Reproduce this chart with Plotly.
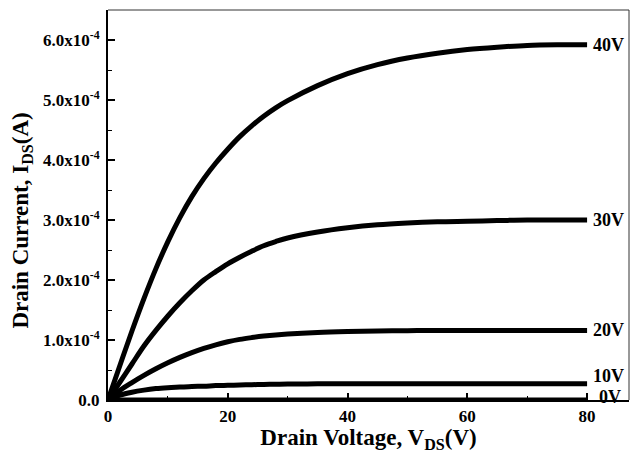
import plotly.graph_objects as go

# Drain voltage grid (V)
vds = [0, 2, 4, 6, 8, 10, 12, 14, 16, 18, 20, 22, 24, 26, 28, 30,
       35, 40, 45, 50, 55, 60, 65, 70, 75, 80]

# Drain current (units of 1e-4 A) for each gate voltage
id_40v = [0, 0.58, 1.15, 1.69, 2.19, 2.64, 3.04, 3.39, 3.69, 3.95, 4.18, 4.39, 4.57, 4.73, 4.87, 4.99,
          5.24, 5.44, 5.59, 5.70, 5.78, 5.84, 5.88, 5.91, 5.92, 5.92]
id_30v = [0, 0.30, 0.60, 0.90, 1.16, 1.40, 1.62, 1.82, 2.00, 2.14, 2.27, 2.38, 2.48, 2.57, 2.64, 2.70,
          2.80, 2.87, 2.92, 2.95, 2.97, 2.98, 2.99, 3.00, 3.00, 3.00]
id_20v = [0, 0.16, 0.29, 0.41, 0.52, 0.62, 0.71, 0.79, 0.86, 0.92, 0.97, 1.01, 1.04, 1.065, 1.085, 1.10,
          1.125, 1.14, 1.15, 1.155, 1.16, 1.16, 1.16, 1.16, 1.16, 1.16]
id_10v = [0, 0.08, 0.13, 0.165, 0.19, 0.205, 0.215, 0.225, 0.23, 0.24, 0.245, 0.25, 0.255, 0.26, 0.262, 0.265,
          0.27, 0.27, 0.27, 0.27, 0.27, 0.27, 0.27, 0.27, 0.27, 0.27]
id_0v = [0] * len(vds)

series = [("40V", id_40v), ("30V", id_30v), ("20V", id_20v), ("10V", id_10v), ("0V", id_0v)]

y_tickvals = [0, 1, 2, 3, 4, 5, 6]
y_ticktext = ["0.0", "1.0x10<sup>-4</sup>", "2.0x10<sup>-4</sup>", "3.0x10<sup>-4</sup>",
              "4.0x10<sup>-4</sup>", "5.0x10<sup>-4</sup>", "6.0x10<sup>-4</sup>"]
x_tickvals = [0, 20, 40, 60, 80]

FONT = "Liberation Serif"

fig = go.Figure()
for name, vals in series:
    fig.add_trace(go.Scatter(
        x=vds, y=[v * 1e-4 for v in vals], mode="lines", name=name,
        line=dict(color="black", width=5, shape="spline", smoothing=1.0),
        showlegend=False, hoverinfo="skip"))

label_shift = {"40V": (0, 0), "30V": (0, 0), "20V": (0, 0), "10V": (0, 8), "0V": (6, 3)}
for name, vals in series:
    dx, dy = label_shift[name]
    fig.add_annotation(x=vds[-1], y=vals[-1] * 1e-4, text=name, showarrow=False,
                       xanchor="left", yanchor="middle", xshift=4 + dx, yshift=dy,
                       font=dict(family=FONT, size=18, color="black", weight="bold"))

# y-axis title as annotation (slightly below the plot centre, as in the reference)
fig.add_annotation(xref="paper", yref="paper", x=0, y=0.46, xshift=-86,
                   text="Drain Current, I<sub>DS</sub>(A)", textangle=-90, showarrow=False,
                   xanchor="center", yanchor="middle",
                   font=dict(family=FONT, size=23, color="black", weight="bold"))

fig.update_layout(
    width=631, height=453,
    margin=dict(l=108, r=2, t=10, b=53),
    paper_bgcolor="white", plot_bgcolor="white",
    font=dict(family=FONT, color="black"),
    xaxis=dict(
        range=[0, 87], showgrid=False, zeroline=False,
        showline=True, linecolor="black", linewidth=2,
        ticks="inside", ticklen=7, tickwidth=1.5, tickcolor="black",
        tickvals=x_tickvals, ticktext=[str(v) for v in x_tickvals],
        minor=dict(ticks="inside", ticklen=4, tickwidth=1.2, tickcolor="black", dtick=10, tick0=0),
        tickfont=dict(family=FONT, size=17, color="black", weight="bold"),
        title=dict(text="Drain Voltage, V<sub>DS</sub>(V)", standoff=5,
                   font=dict(family=FONT, size=23, color="black", weight="bold")),
    ),
    yaxis=dict(
        range=[0, 6.5e-4], showgrid=False, zeroline=False,
        showline=True, linecolor="black", linewidth=2,
        ticks="inside", ticklen=7, tickwidth=1.5, tickcolor="black",
        tickvals=[v * 1e-4 for v in y_tickvals], ticktext=y_ticktext,
        minor=dict(ticks="inside", ticklen=4, tickwidth=1.2, tickcolor="black", dtick=0.5e-4, tick0=0),
        tickfont=dict(family=FONT, size=17, color="black", weight="bold"),
        ticklabelstandoff=3,
    ),
)

# thin top and right frame lines
fig.add_shape(type="line", xref="paper", yref="paper", x0=0, x1=1, y0=1, y1=1,
              line=dict(color="#333333", width=1))
fig.add_shape(type="line", xref="paper", yref="paper", x0=1, x1=1, y0=0, y1=1,
              line=dict(color="#333333", width=1))

fig.write_html("out.html")
